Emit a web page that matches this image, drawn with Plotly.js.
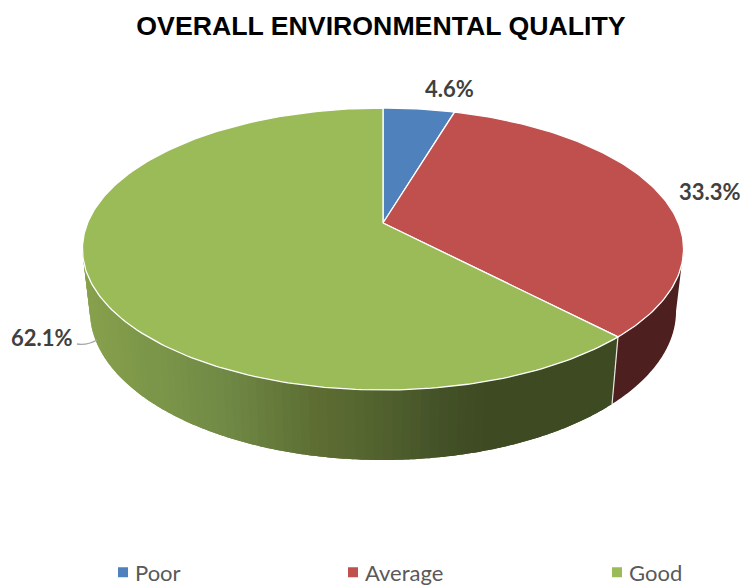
<!DOCTYPE html>
<html>
<head>
<meta charset="utf-8">
<script src="https://cdn.plot.ly/plotly-3.0.1.min.js"></script>
<style>html,body{margin:0;padding:0;background:#fff;}</style>
</head>
<body>
<div id="chart" style="width:744px;height:585px;"></div>
<script>
// ---- data ----
const categories = ['Poor', 'Average', 'Good'];
const shares = [4.6, 33.3, 62.1];

// ---- styles ----
const topColors = ['#4F81BD', '#C0504D', '#9BBB59'];
const redWall = '#4D1F1E';
const greenWallStops = [[90,[134,160,76]],[225,[113,139,70]],[330,[92,108,50]],[372,[86,102,48]],[450,[68,82,40]],[500,[62,74,34]],[620,[62,74,34]]];

// ---- projection of the disc onto the page (perspective tilt), page pixels ----
const cx = 383, persp = 0.1844;
const topFace = {ax: 295.4, by: 136.2, cy: 223};
const baseFace = {ax: 288, by: 143.8, cy: 283.7};
function proj(face, deg) {
  const t = deg * Math.PI / 180, w = 1 + persp * Math.cos(t);
  return [cx + face.ax * Math.sin(t) / w, face.cy - face.by * Math.cos(t) / w];
}
function range(a, b, step) {
  const n = Math.max(1, Math.ceil((b - a) / step)), out = [];
  for (let i = 0; i <= n; i++) out.push(a + (b - a) * i / n);
  return out;
}
function gradient(x) {
  const s = greenWallStops;
  for (let i = 1; i < s.length; i++) {
    if (x <= s[i][0]) {
      const f = Math.max(0, (x - s[i-1][0]) / (s[i][0] - s[i-1][0]));
      const c = s[i-1][1].map((v, k) => Math.round(v + (s[i][1][k] - v) * f));
      return 'rgb(' + c.join(',') + ')';
    }
  }
  return 'rgb(' + s[s.length-1][1].join(',') + ')';
}

const total = shares.reduce((a, b) => a + b, 0);
const edges = [0];
shares.forEach(v => edges.push(edges[edges.length-1] + v / total * 360));

const traces = [];
const tangent = Math.acos(-persp) * 180 / Math.PI;

// side wall: only the front part of the rim is visible.
// Each band runs on under the next one so that no seams show between bands.
function rimBand(a, b, col) {
  const arc = range(a, b, 0.5);
  const upper = arc.map(d => proj(topFace, d));
  const lower = arc.slice().reverse().map(d => proj(baseFace, d));
  const p = upper.concat(lower, [upper[0]]);
  traces.push({type:'scatter', mode:'none', x:p.map(q=>q[0]), y:p.map(q=>q[1]), fill:'toself', fillcolor:col,
    hoverinfo:'skip', showlegend:false});
}
rimBand(tangent, edges[2], redWall);
const bands = range(edges[2], 360 - tangent, 1.5);
for (let i = bands.length - 2; i >= 0; i--) {
  const mid = proj(topFace, (bands[i] + bands[i+1]) / 2)[0];
  rimBand(bands[i], Math.min(bands[i+1] + 1.5, 360 - tangent), gradient(mid));
}

// white separator on the wall between the two visible slices
const sepT = proj(topFace, edges[2]), sepB = proj(baseFace, edges[2]);
traces.push({type:'scatter', mode:'lines', x:[sepT[0], sepB[0]], y:[sepT[1], sepB[1]],
  line:{color:'#E8E8E0', width:1.2}, hoverinfo:'skip', showlegend:false});

// top face
categories.forEach((name, i) => {
  const pts = [[cx, topFace.cy]].concat(range(edges[i], edges[i+1], 1).map(d => proj(topFace, d)));
  pts.push([cx, topFace.cy]);
  traces.push({type:'scatter', mode:'lines', x:pts.map(q=>q[0]), y:pts.map(q=>q[1]), fill:'toself',
    fillcolor:topColors[i], line:{color:'#FFFFFF', width:1.3}, name:name, hoverinfo:'name', showlegend:false});
});

// legend entries
const legendIds = ['legend', 'legend2', 'legend3'];
categories.forEach((name, i) => {
  traces.push({type:'scatter', mode:'markers', x:[null], y:[null], name:name, legend:legendIds[i],
    marker:{symbol:'square', size:10, color:topColors[i]}, showlegend:true});
});

const legendFont = {family:'Lato, Carlito, sans-serif', size:22, color:'#595959'};
function legendAt(px) {
  return {x:px/744, y:1-572.5/585, xanchor:'left', yanchor:'middle', orientation:'h', bgcolor:'rgba(0,0,0,0)',
    font:legendFont, itemclick:false, itemdoubleclick:false};
}

const labelPos = [[449,88],[710,191],[42,337]];
const layout = {
  width:744, height:585, paper_bgcolor:'#fff', plot_bgcolor:'#fff',
  margin:{l:0,r:0,t:0,b:0,autoexpand:false},
  title:{text:'OVERALL ENVIRONMENTAL QUALITY', x:381/744, y:1-26/585, xanchor:'center', yanchor:'middle',
    font:{family:'Liberation Sans, Arial, sans-serif', size:26.7, color:'#000', weight:700}},
  xaxis:{range:[0,744], visible:false, fixedrange:true},
  yaxis:{range:[585,0], visible:false, fixedrange:true},
  legend:legendAt(95), legend2:legendAt(325), legend3:legendAt(589),
  shapes:[{type:'path', xref:'x', yref:'y', path:'M 77 344 C 84 345, 90 344, 97 340', line:{color:'#A6A6A6', width:1.3}}],
  annotations:categories.map((c,i)=>({x:labelPos[i][0], y:labelPos[i][1], xref:'x', yref:'y', showarrow:false,
    text:shares[i].toFixed(1)+'%', font:{family:'Lato, Carlito, sans-serif', size:22, color:'#404040', weight:700}}))
};

Plotly.newPlot('chart', traces, layout, {displayModeBar:false, staticPlot:true}).then(() => {
  // the legend swatch sits close to its text in the reference
  document.querySelectorAll('.legendpoints').forEach(g => g.setAttribute('transform', 'translate(8,0)'));
});
</script>
</body>
</html>
